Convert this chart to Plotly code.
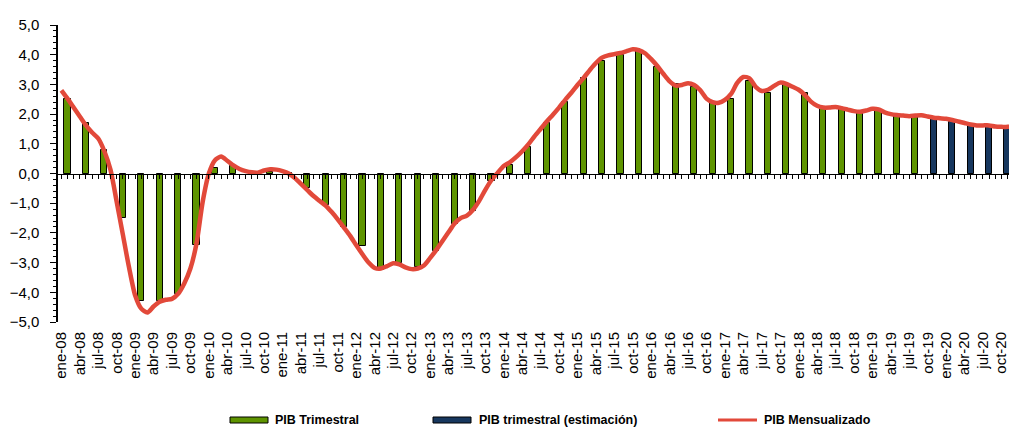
import plotly.graph_objects as go

# ---------------- data ----------------
tick_labels = [
    "ene-08", "abr-08", "jul-08", "oct-08", "ene-09", "abr-09", "jul-09", "oct-09",
    "ene-10", "abr-10", "jul-10", "oct-10", "ene-11", "abr-11", "jul-11", "oct-11",
    "ene-12", "abr-12", "jul-12", "oct-12", "ene-13", "abr-13", "jul-13", "oct-13",
    "ene-14", "abr-14", "jul-14", "oct-14", "ene-15", "abr-15", "jul-15", "oct-15",
    "ene-16", "abr-16", "jul-16", "oct-16", "ene-17", "abr-17", "jul-17", "oct-17",
    "ene-18", "abr-18", "jul-18", "oct-18", "ene-19", "abr-19", "jul-19", "oct-19",
    "ene-20", "abr-20", "jul-20", "oct-20",
]

# quarterly GDP (PIB Trimestral), Q1-2008 .. Q3-2019
pib_trimestral = [
    2.5, 1.7, 0.8, -1.5,
    -4.3, -4.3, -4.05, -2.4,
    0.17, 0.25, 0.04, 0.04,
    0.03, -0.5, -1.05, -1.8,
    -2.45, -3.25, -3.0, -3.15,
    -2.6, -1.7, -1.25, -0.25,
    0.3, 0.9, 1.7, 2.4,
    3.2, 3.8, 4.0, 4.15,
    3.6, 3.0, 2.9, 2.4,
    2.5, 3.1, 2.7, 3.0,
    2.7, 2.2, 2.2, 2.05,
    2.1, 1.95, 1.9,
]

# quarterly GDP estimate, Q4-2019 .. Q4-2020
pib_estimacion = [1.85, 1.75, 1.6, 1.57, 1.55]

# monthly GDP (PIB Mensualizado), ene-08 .. dic-20
pib_mensual = [
    2.80, 2.52, 2.22, 1.92, 1.62, 1.38, 1.18, 0.75, 0.12, -0.95, -2.05, -3.15,   # 2008
    -4.10, -4.55, -4.68, -4.48, -4.32, -4.25, -4.22, -4.05, -3.70, -3.20, -2.35, -0.95,  # 2009
    0.00, 0.45, 0.57, 0.43, 0.27, 0.15, 0.08, 0.04, 0.03, 0.10, 0.14, 0.13,   # 2010
    0.08, 0.00, -0.15, -0.35, -0.55, -0.75, -0.92, -1.08, -1.30, -1.55, -1.82, -2.10,  # 2011
    -2.42, -2.72, -3.00, -3.18, -3.20, -3.12, -3.02, -3.06, -3.16, -3.22, -3.20, -3.10,  # 2012
    -2.85, -2.58, -2.28, -1.98, -1.68, -1.50, -1.42, -1.22, -0.92, -0.55, -0.22, 0.02,  # 2013
    0.25, 0.38, 0.55, 0.75, 0.98, 1.25, 1.50, 1.75, 1.98, 2.22, 2.48, 2.72,   # 2014
    2.98, 3.22, 3.48, 3.72, 3.90, 3.98, 4.02, 4.06, 4.12, 4.18, 4.15, 4.05,   # 2015
    3.85, 3.62, 3.35, 3.10, 2.96, 2.98, 3.04, 2.98, 2.80, 2.52, 2.40, 2.38,   # 2016
    2.48, 2.68, 3.05, 3.25, 3.20, 2.92, 2.78, 2.82, 2.95, 3.06, 3.02, 2.92,   # 2017
    2.82, 2.65, 2.42, 2.28, 2.22, 2.22, 2.24, 2.20, 2.15, 2.10, 2.08, 2.12,   # 2018
    2.18, 2.16, 2.06, 2.00, 1.97, 1.95, 1.93, 1.95, 1.96, 1.92, 1.88, 1.86,   # 2019
    1.84, 1.80, 1.75, 1.70, 1.65, 1.62, 1.62, 1.62, 1.58, 1.57, 1.57, 1.57,   # 2020
]

legend_names = ["PIB Trimestral", "PIB trimestral (estimación)", "PIB Mensualizado"]

# ---------------- style ----------------
GREEN = "#5E9400"
NAVY = "#17375E"
RED = "#E2493A"
FONT = "Liberation Sans, Arial, sans-serif"

W, H = 1009, 428
ML, MR, MT, MB = 58, 0, 25, 106
PW, PH = W - ML - MR, H - MT - MB

months_x = list(range(len(pib_mensual)))
q_all = len(pib_trimestral) + len(pib_estimacion)
quarter_x = [1 + 3 * q for q in range(q_all)]       # bars at middle month of quarter
x_trim = quarter_x[:len(pib_trimestral)]
x_est = quarter_x[len(pib_trimestral):]
tick_x = [3 * k for k in range(len(tick_labels))]

fig = go.Figure()
fig.add_trace(go.Bar(
    x=x_trim, y=pib_trimestral, name=legend_names[0], width=1.0,
    marker=dict(color=GREEN, line=dict(color="black", width=1)), showlegend=False,
))
fig.add_trace(go.Bar(
    x=x_est, y=pib_estimacion, name=legend_names[1], width=1.0,
    marker=dict(color=NAVY, line=dict(color="black", width=1)), showlegend=False,
))
fig.add_trace(go.Scatter(
    x=months_x, y=pib_mensual, name=legend_names[2], mode="lines",
    line=dict(color=RED, width=4.5, shape="spline", smoothing=0.7), showlegend=False,
))
# helper trace for the zero-line axis with monthly ticks
fig.add_trace(go.Scatter(
    x=[months_x[0]], y=[0], xaxis="x2", mode="markers",
    marker=dict(opacity=0), showlegend=False, hoverinfo="skip",
))

x_range = [-0.55, -0.55 + PW / 6.144]

fig.update_layout(
    width=W, height=H,
    margin=dict(l=ML, r=MR, t=MT, b=MB, pad=0),
    paper_bgcolor="white", plot_bgcolor="white",
    separators=",.",
    bargap=0, barmode="overlay",
    font=dict(family=FONT, color="black"),
    xaxis=dict(
        range=x_range, tickmode="array", tickvals=tick_x, ticktext=tick_labels,
        tickangle=-90, tickfont=dict(size=15, family=FONT, color="black"),
        showline=False, showgrid=False, zeroline=False, ticks="", ticklabelstandoff=6,
        ticklabeloverflow="allow",
    ),
    xaxis2=dict(
        overlaying="x", matches="x", anchor="free", position=0.5, side="bottom",
        range=x_range, tickmode="linear", tick0=0, dtick=1, ticks="outside",
        ticklen=4, tickwidth=1, tickcolor="black", showticklabels=False,
        showline=True, linecolor="black", linewidth=1.2, showgrid=False, zeroline=False,
    ),
    yaxis=dict(
        range=[-5, 5], tickmode="linear", tick0=-5, dtick=1, tickformat=".1f",
        ticks="outside", ticklen=6, tickwidth=1, tickcolor="black",
        minor=dict(dtick=0.2, ticks="outside", ticklen=3, tickcolor="black", showgrid=False),
        showline=True, linecolor="black", linewidth=1.5, showgrid=False, zeroline=False,
        tickfont=dict(size=15, family=FONT, color="black"), ticklabelstandoff=8,
    ),
)

# ---------------- manual legend ----------------
def px_x(p):
    return (p - ML) / PW

def px_y(p):
    return (H - MB - p) / PH

legend_y = 420
items = [
    (230, 268, 273, legend_names[0], "bar", GREEN),
    (433, 471, 477, legend_names[1], "bar", NAVY),
    (718, 757, 762, legend_names[2], "line", RED),
]
for x0, x1, xt, txt, kind, col in items:
    if kind == "bar":
        fig.add_shape(type="rect", xref="paper", yref="paper",
                      x0=px_x(x0), x1=px_x(x1), y0=px_y(legend_y - 3), y1=px_y(legend_y + 3),
                      fillcolor=col, line=dict(color="black", width=1))
    else:
        fig.add_shape(type="line", xref="paper", yref="paper",
                      x0=px_x(x0), x1=px_x(x1), y0=px_y(legend_y), y1=px_y(legend_y),
                      line=dict(color=col, width=3))
    fig.add_annotation(xref="paper", yref="paper", x=px_x(xt), y=px_y(legend_y),
                       xanchor="left", yanchor="middle", showarrow=False,
                       text=f"<b>{txt}</b>", font=dict(size=12.5, family=FONT, color="black"))

fig.write_html("out.html", config={"displayModeBar": False},
               post_script="document.body.style.margin='0';document.body.style.overflow='hidden';")
